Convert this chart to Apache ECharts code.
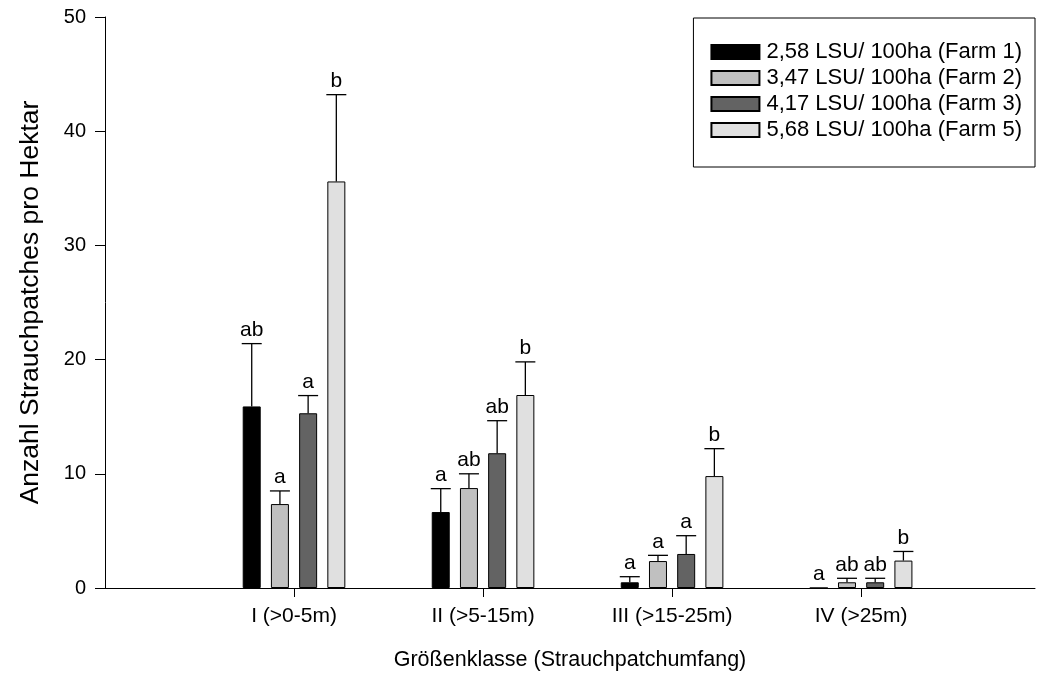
<!DOCTYPE html>
<html>
<head>
<meta charset="utf-8">
<script src="https://cdn.jsdelivr.net/npm/echarts@6/dist/echarts.min.js"></script>
<style>
html,body{margin:0;padding:0;background:#fff;}
#chart{width:1039px;height:685px;}
</style>
</head>
<body>
<div id="chart"></div>
<script>
// ---- data ----
var categories = ['I (>0-5m)', 'II (>5-15m)', 'III (>15-25m)', 'IV (>25m)'];
var seriesNames = ['2,58 LSU/ 100ha (Farm 1)', '3,47 LSU/ 100ha (Farm 2)', '4,17 LSU/ 100ha (Farm 3)', '5,68 LSU/ 100ha (Farm 5)'];
var farm1 = [15.9, 6.65, 0.5, 0];
var farm2 = [7.35, 8.75, 2.36, 0.5];
var farm3 = [15.3, 11.8, 2.98, 0.5];
var farm5 = [35.6, 16.9, 9.8, 2.4];
var farm1Upper = [21.4, 8.7, 0.99, 0];
var farm2Upper = [8.5, 10.0, 2.86, 0.85];
var farm3Upper = [16.85, 14.65, 4.58, 0.85];
var farm5Upper = [43.2, 19.8, 12.2, 3.2];
var farm1Letters = ['ab', 'a', 'a', 'a'];
var farm2Letters = ['a', 'ab', 'a', 'ab'];
var farm3Letters = ['a', 'ab', 'a', 'ab'];
var farm5Letters = ['b', 'b', 'b', 'b'];
var yTicks = [0, 10, 20, 30, 40, 50];

var values = [farm1, farm2, farm3, farm5];
var uppers = [farm1Upper, farm2Upper, farm3Upper, farm5Upper];
var letters = [farm1Letters, farm2Letters, farm3Letters, farm5Letters];
var colors = ['#000000', '#c0c0c0', '#636363', '#e0e0e0'];

var FONT = 'Liberation Sans, Arial, sans-serif';
var BAR_W = 18, BAR_STEP = 28.2;

var chart = echarts.init(document.getElementById('chart'), null, {renderer: 'canvas'});

var series = [];
values.forEach(function (vals, s) {
  series.push({
    name: seriesNames[s],
    type: 'bar',
    barWidth: BAR_W,
    barGap: ((BAR_STEP - BAR_W) / BAR_W * 100).toFixed(1) + '%',
    itemStyle: {color: colors[s], borderColor: '#000', borderWidth: 1},
    data: vals.map(function (v, i) { return [i + 1, v]; }),
    z: 2
  });
});
values.forEach(function (vals, s) {
  var offset = (s - 1.5) * BAR_STEP;
  series.push({
    type: 'custom',
    name: 'err' + s,
    z: 3,
    silent: true,
    data: vals.map(function (v, i) { return [i + 1, v, uppers[s][i], i]; }),
    renderItem: function (params, api) {
      var x = api.value(0), v = api.value(1), up = api.value(2), idx = api.value(3);
      var p0 = api.coord([x, v]);
      var p1 = api.coord([x, up]);
      var cx = p0[0] + offset;
      var children = [];
      if (up > v) {
        children.push({type: 'line', shape: {x1: cx, y1: p0[1], x2: cx, y2: p1[1]}, style: {stroke: '#000', lineWidth: 1.3}});
        children.push({type: 'line', shape: {x1: cx - 10, y1: p1[1], x2: cx + 10, y2: p1[1]}, style: {stroke: '#000', lineWidth: 1.3}});
      }
      children.push({type: 'text', style: {text: letters[s][idx], x: cx, y: p1[1] - 3, align: 'center', verticalAlign: 'bottom', font: '21px ' + FONT, fill: '#000'}});
      return {type: 'group', children: children};
    }
  });
});

chart.setOption({
  animation: false,
  backgroundColor: '#fff',
  textStyle: {fontFamily: FONT},
  grid: {left: 105, right: 4, top: 17, bottom: 97, containLabel: false},
  legend: {
    data: seriesNames,
    orient: 'vertical',
    right: 4,
    top: 18,
    backgroundColor: '#fff',
    borderColor: '#000',
    borderWidth: 1,
    padding: [23, 13, 26, 17],
    itemWidth: 48,
    itemHeight: 14,
    itemGap: 4,
    icon: 'rect',
    textStyle: {fontSize: 22, lineHeight: 22, color: '#000', fontFamily: FONT, padding: [0, 0, 0, 2]},
    selectedMode: false
  },
  xAxis: {
    type: 'value',
    min: 0,
    max: 4.92,
    interval: 1,
    splitLine: {show: false},
    axisLine: {show: true, lineStyle: {color: '#000', width: 1}},
    axisTick: {show: true, length: 9, customValues: [1, 2, 3, 4], lineStyle: {color: '#000'}},
    axisLabel: {
      customValues: [1, 2, 3, 4],
      fontSize: 21, color: '#000', margin: 18, fontFamily: FONT,
      formatter: function (v) { return categories[Math.round(v) - 1] || ''; }
    },
    name: 'Größenklasse (Strauchpatchumfang)',
    nameLocation: 'middle',
    nameGap: 61,
    nameTextStyle: {fontSize: 21.5, color: '#000', fontFamily: FONT}
  },
  yAxis: {
    type: 'value',
    min: yTicks[0],
    max: yTicks[yTicks.length - 1],
    interval: 10,
    splitLine: {show: false},
    axisLine: {show: true, lineStyle: {color: '#000', width: 1}},
    axisTick: {show: true, length: 10, lineStyle: {color: '#000'}},
    axisLabel: {fontSize: 20, color: '#000', margin: 19, fontFamily: FONT},
    name: 'Anzahl Strauchpatches pro Hektar',
    nameLocation: 'middle',
    nameGap: 61,
    nameTextStyle: {fontSize: 26.5, color: '#000', fontFamily: FONT}
  },
  series: series
});
</script>
</body>
</html>
